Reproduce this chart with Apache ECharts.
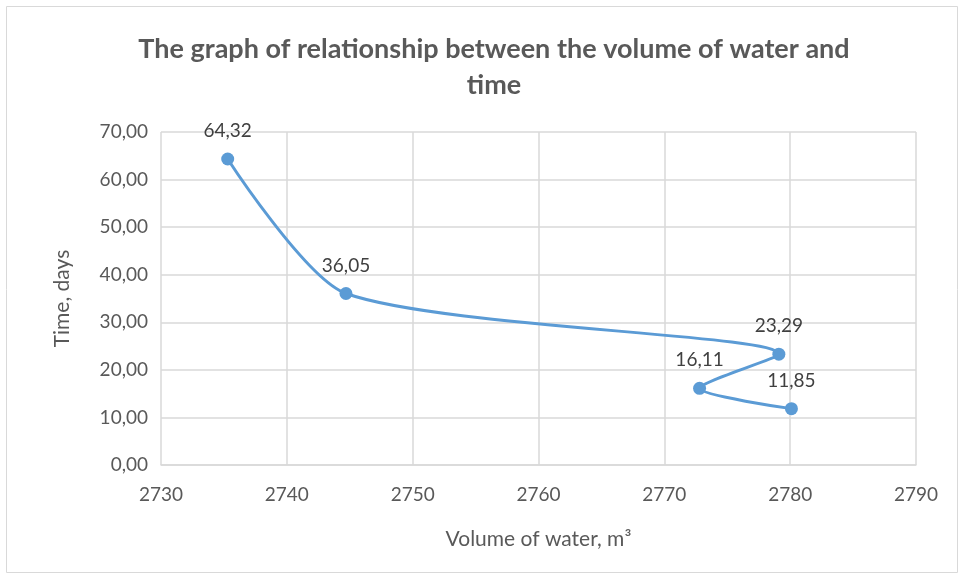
<!DOCTYPE html>
<html><head><meta charset="utf-8">
<script src="https://cdn.jsdelivr.net/npm/echarts@6/dist/echarts.min.js"></script>
<style>html,body{margin:0;padding:0;background:#fff}#c{width:964px;height:579px}</style>
</head><body><div id="c"></div>
<script>
const volume = [2735.3, 2744.7, 2779.1, 2772.8, 2780.1];
const days = [64.32, 36.05, 23.29, 16.11, 11.85];
const titleText = 'The graph of relationship between the volume of water and\ntime';
const xName = 'Volume of water, m³';
const yName = 'Time, days';

const chart = echarts.init(document.getElementById('c'));
const FONT = 'Lato, sans-serif';
chart.setOption({
  animation: false,
  graphic: [{type:'rect', shape:{x:6.5,y:6.5,width:951,height:566}, style:{fill:'none', stroke:'#d9d9d9', lineWidth:1}, z:-1}],
  title: {
    text: titleText, left: 489, top: 26, textAlign: 'center',
    textStyle: {fontFamily: FONT, fontWeight: 'bold', fontSize: 27, color: '#595959', lineHeight: 36}
  },
  grid: {left: 161, right: 48, top: 132, bottom: 114},
  xAxis: {
    type: 'value', min: 2730, max: 2790, interval: 10,
    name: xName, nameLocation: 'middle', nameGap: 64,
    nameTextStyle: {fontFamily: FONT, fontSize: 21, color: '#595959'},
    axisLine: {show: true, lineStyle: {color: '#d9d9d9', width: 1.5}},
    axisTick: {show: false},
    axisLabel: {fontFamily: FONT, fontSize: 19, color: '#595959', margin: 20,
      formatter: v => String(v)},
    splitLine: {show: true, lineStyle: {color: '#d9d9d9', width: 1.5}}
  },
  yAxis: {
    type: 'value', min: 0, max: 70, interval: 10,
    name: yName, nameLocation: 'middle', nameGap: 88,
    nameTextStyle: {fontFamily: FONT, fontSize: 21, color: '#595959'},
    axisLine: {show: false},
    axisTick: {show: false},
    axisLabel: {fontFamily: FONT, fontSize: 19, color: '#595959', margin: 13,
      formatter: v => v.toFixed(2).replace('.', ',')},
    splitLine: {show: true, lineStyle: {color: '#d9d9d9', width: 1.5}}
  },
  series: [{
    type: 'line',
    data: volume.map((v, i) => [v, days[i]]),
    smooth: 0.25,
    symbol: 'circle', symbolSize: 13,
    lineStyle: {color: '#5B9BD5', width: 3},
    itemStyle: {color: '#5B9BD5'},
    label: {show: true, position: 'top', distance: 12,
      fontFamily: FONT, fontSize: 19, color: '#404040',
      formatter: p => p.value[1].toFixed(2).replace('.', ',')}
  }]
});
</script></body></html>
